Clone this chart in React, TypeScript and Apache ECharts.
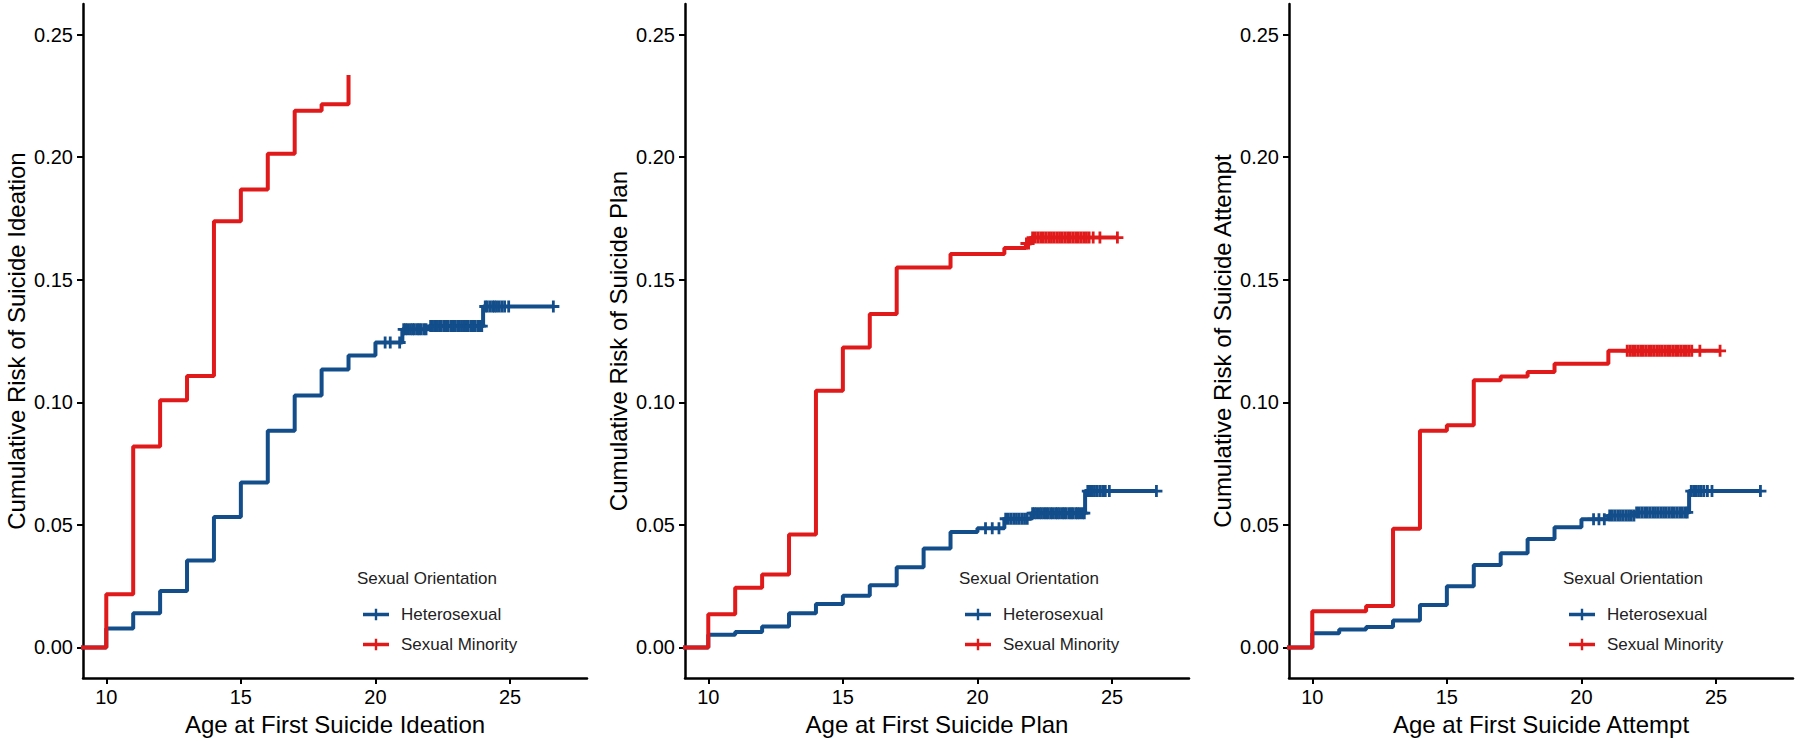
import React, { useEffect, useRef } from "react";
import * as echarts from "echarts";

// ---------- data ----------
const panelTitlesX = ["Age at First Suicide Ideation", "Age at First Suicide Plan", "Age at First Suicide Attempt"];
const panelTitlesY = ["Cumulative Risk of Suicide Ideation", "Cumulative Risk of Suicide Plan", "Cumulative Risk of Suicide Attempt"];
const groupNames = ["Heterosexual", "Sexual Minority"];
const xTicks = [10, 15, 20, 25];
const yTicks = [0, 0.05, 0.1, 0.15, 0.2, 0.25];

// Panel 1: ideation
const ages1Het = [0, 10, 11, 12, 13, 14, 15, 16, 17, 18, 19, 20, 21, 22, 24, 26.61];
const risk1Het = [0, 0.0077, 0.014, 0.023, 0.0355, 0.0532, 0.0673, 0.0884, 0.1028, 0.1134, 0.1191, 0.1244, 0.1298, 0.1311, 0.1391, 0.1391];
const ages1Min = [0, 10, 11, 12, 13, 14, 15, 16, 17, 18, 19];
const risk1Min = [0, 0.0217, 0.082, 0.1009, 0.1107, 0.1739, 0.1868, 0.2014, 0.219, 0.2216, 0.2335];
const cens1Het = [20.36, 20.55, 20.9, 21.05, 21.12, 21.2, 21.3, 21.38, 21.45, 21.55, 21.62, 21.7, 21.8, 21.88, 22.05, 22.12, 22.2, 22.3, 22.38, 22.45, 22.55, 22.62, 22.7, 22.8, 22.88, 22.95, 23.05, 23.12, 23.2, 23.3, 23.38, 23.45, 23.55, 23.62, 23.7, 23.8, 23.88, 23.95, 24.08, 24.15, 24.25, 24.35, 24.42, 24.5, 24.6, 24.7, 24.8, 24.95, 26.61];
const cens1Min: number[] = [];

// Panel 2: plan
const ages2Het = [0, 10, 11, 12, 13, 14, 15, 16, 17, 18, 19, 20, 21, 22, 24, 26.65];
const risk2Het = [0, 0.0052, 0.0063, 0.0086, 0.014, 0.0177, 0.0211, 0.0254, 0.0327, 0.0404, 0.0471, 0.0486, 0.0525, 0.0548, 0.0638, 0.0638];
const ages2Min = [0, 10, 11, 12, 13, 14, 15, 16, 17, 19, 21, 21.8, 22, 25.2];
const risk2Min = [0, 0.0135, 0.0244, 0.0298, 0.0461, 0.1047, 0.1224, 0.136, 0.155, 0.1605, 0.163, 0.1648, 0.1672, 0.1672];
const cens2Het = [20.3, 20.55, 20.8, 21.05, 21.15, 21.25, 21.35, 21.45, 21.55, 21.65, 21.75, 21.85, 22.05, 22.12, 22.2, 22.3, 22.38, 22.47, 22.55, 22.63, 22.72, 22.8, 22.9, 22.97, 23.05, 23.15, 23.22, 23.3, 23.4, 23.48, 23.55, 23.65, 23.72, 23.8, 23.9, 23.97, 24.1, 24.18, 24.27, 24.35, 24.45, 24.55, 24.65, 24.75, 24.9, 26.65];
const cens2Min = [21.82, 21.9, 22.05, 22.15, 22.25, 22.35, 22.45, 22.55, 22.65, 22.75, 22.85, 22.95, 23.05, 23.15, 23.25, 23.35, 23.45, 23.55, 23.65, 23.75, 23.85, 23.95, 24.05, 24.15, 24.3, 24.55, 25.2];

// Panel 3: attempt
const ages3Het = [0, 10, 11, 12, 13, 14, 15, 16, 17, 18, 19, 20, 21, 22, 24, 26.65];
const risk3Het = [0, 0.0058, 0.0073, 0.0083, 0.011, 0.0173, 0.025, 0.0336, 0.0384, 0.0442, 0.049, 0.0523, 0.0538, 0.0551, 0.0638, 0.0638];
const ages3Min = [0, 10, 12, 13, 14, 15, 16, 17, 18, 19, 21, 25.15];
const risk3Min = [0, 0.0148, 0.0169, 0.0484, 0.0884, 0.0907, 0.109, 0.1105, 0.1124, 0.1157, 0.121, 0.121];
const cens3Het = [20.45, 20.65, 20.85, 21.05, 21.15, 21.25, 21.35, 21.45, 21.55, 21.65, 21.75, 21.85, 21.95, 22.05, 22.15, 22.25, 22.35, 22.45, 22.55, 22.65, 22.75, 22.85, 22.95, 23.05, 23.15, 23.25, 23.35, 23.45, 23.55, 23.65, 23.75, 23.85, 23.93, 24.08, 24.17, 24.25, 24.35, 24.45, 24.55, 24.68, 24.85, 26.65];
const cens3Min = [21.7, 21.8, 21.9, 22.0, 22.1, 22.2, 22.3, 22.4, 22.5, 22.6, 22.7, 22.8, 22.9, 23.0, 23.1, 23.2, 23.3, 23.4, 23.5, 23.6, 23.7, 23.8, 23.9, 24.0, 24.1, 24.4, 25.15];

const panels = [
  { het: [ages1Het, risk1Het], min: [ages1Min, risk1Min], censHet: cens1Het, censMin: cens1Min },
  { het: [ages2Het, risk2Het], min: [ages2Min, risk2Min], censHet: cens2Het, censMin: cens2Min },
  { het: [ages3Het, risk3Het], min: [ages3Min, risk3Min], censHet: cens3Het, censMin: cens3Min },
];

// ---------- styles ----------
const COLORS = ["#134e8b", "#e01a1a"];
const FONT = "Liberation Sans, Arial, Helvetica, sans-serif";
const GRID_LEFT = [83, 685, 1289];
const GRID_W = 504;
const GRID_TOP = 4;
const GRID_H = 675;
const PLUS = "path://M-1.4,-6H1.4V-1.4H6V1.4H1.4V6H-1.4V1.4H-6V-1.4H-1.4Z";
const LEGEND_ICON = "path://M0,4H26V7.5H0Z M11.8,0H14.2V11.5H11.8Z";

function stepValue(ages: number[], risk: number[], t: number) {
  let v = 0;
  for (let i = 0; i < ages.length; i++) if (ages[i] <= t) v = risk[i];
  return v;
}

export default function App() {
  const ref = useRef<HTMLDivElement>(null);
  useEffect(() => {
    if (!ref.current) return;
    const chart = echarts.init(ref.current, undefined, { renderer: "svg" });
    const grid: any[] = [];
    const xAxis: any[] = [];
    const yAxis: any[] = [];
    const series: any[] = [];
    const legend: any[] = [];
    const graphic: any[] = [];
    panels.forEach((p, i) => {
      grid.push({ left: GRID_LEFT[i], top: GRID_TOP, width: GRID_W, height: GRID_H, containLabel: false });
      xAxis.push({
        type: "value", gridIndex: i, min: 9.135, max: 27.86,
        name: panelTitlesX[i], nameLocation: "middle", nameGap: 32,
        nameTextStyle: { fontSize: 24, color: "#000", fontFamily: FONT },
        axisLine: { show: true, onZero: false, lineStyle: { color: "#000", width: 2.5 } },
        axisTick: { show: true, length: 6, lineStyle: { color: "#000", width: 2 }, customValues: xTicks },
        axisLabel: { fontSize: 20, color: "#000", fontFamily: FONT, margin: 9, customValues: xTicks },
        splitLine: { show: false },
      });
      yAxis.push({
        type: "value", gridIndex: i, min: -0.0125, max: 0.2625,
        name: panelTitlesY[i], nameLocation: "middle", nameGap: 55,
        nameTextStyle: { fontSize: 24, color: "#000", fontFamily: FONT },
        axisLine: { show: true, onZero: false, lineStyle: { color: "#000", width: 2.5 } },
        axisTick: { show: true, length: 6, lineStyle: { color: "#000", width: 2 }, customValues: yTicks },
        axisLabel: { fontSize: 20, color: "#000", fontFamily: FONT, margin: 10, customValues: yTicks, formatter: (v: number) => v.toFixed(2) },
        splitLine: { show: false },
      });
      const groups = [p.het, p.min];
      const cens = [p.censHet, p.censMin];
      groups.forEach((g, k) => {
        const [ages, risk] = g;
        series.push({
          type: "line", name: groupNames[k], xAxisIndex: i, yAxisIndex: i,
          data: ages.map((a, j) => [a, risk[j]]),
          step: "end", showSymbol: false, symbol: "none", clip: true,
          color: COLORS[k],
          lineStyle: { color: COLORS[k], width: 4 },
          z: 2 + k,
        });
      });
      groups.forEach((g, k) => {
        const [ages, risk] = g;
        series.push({
          type: "scatter", name: groupNames[k] + " censored", xAxisIndex: i, yAxisIndex: i,
          data: cens[k].map((t) => [t, stepValue(ages, risk, t)]),
          symbol: PLUS, symbolSize: 12,
          itemStyle: { color: COLORS[k], opacity: 1 },
          z: 2 + k,
        });
      });
      legend.push({
        data: groupNames, orient: "vertical", left: GRID_LEFT[i] + 275, top: 601,
        itemWidth: 26, itemHeight: 11.5, itemGap: 13, icon: LEGEND_ICON,
        textStyle: { fontSize: 17, color: "#222", fontFamily: FONT, padding: [0, 0, 0, 7] },
      });
      graphic.push({
        type: "text", left: GRID_LEFT[i] + 274, top: 570,
        style: { text: "Sexual Orientation", fontSize: 17, fill: "#222", fontFamily: FONT },
      });
    });
    chart.setOption({
      animation: false,
      backgroundColor: "#fff",
      grid, xAxis, yAxis, series, legend, graphic,
    });
    return () => chart.dispose();
  }, []);
  return <div ref={ref} style={{ position: "absolute", left: 0, top: 0, width: 1800, height: 741 }} />;
}
